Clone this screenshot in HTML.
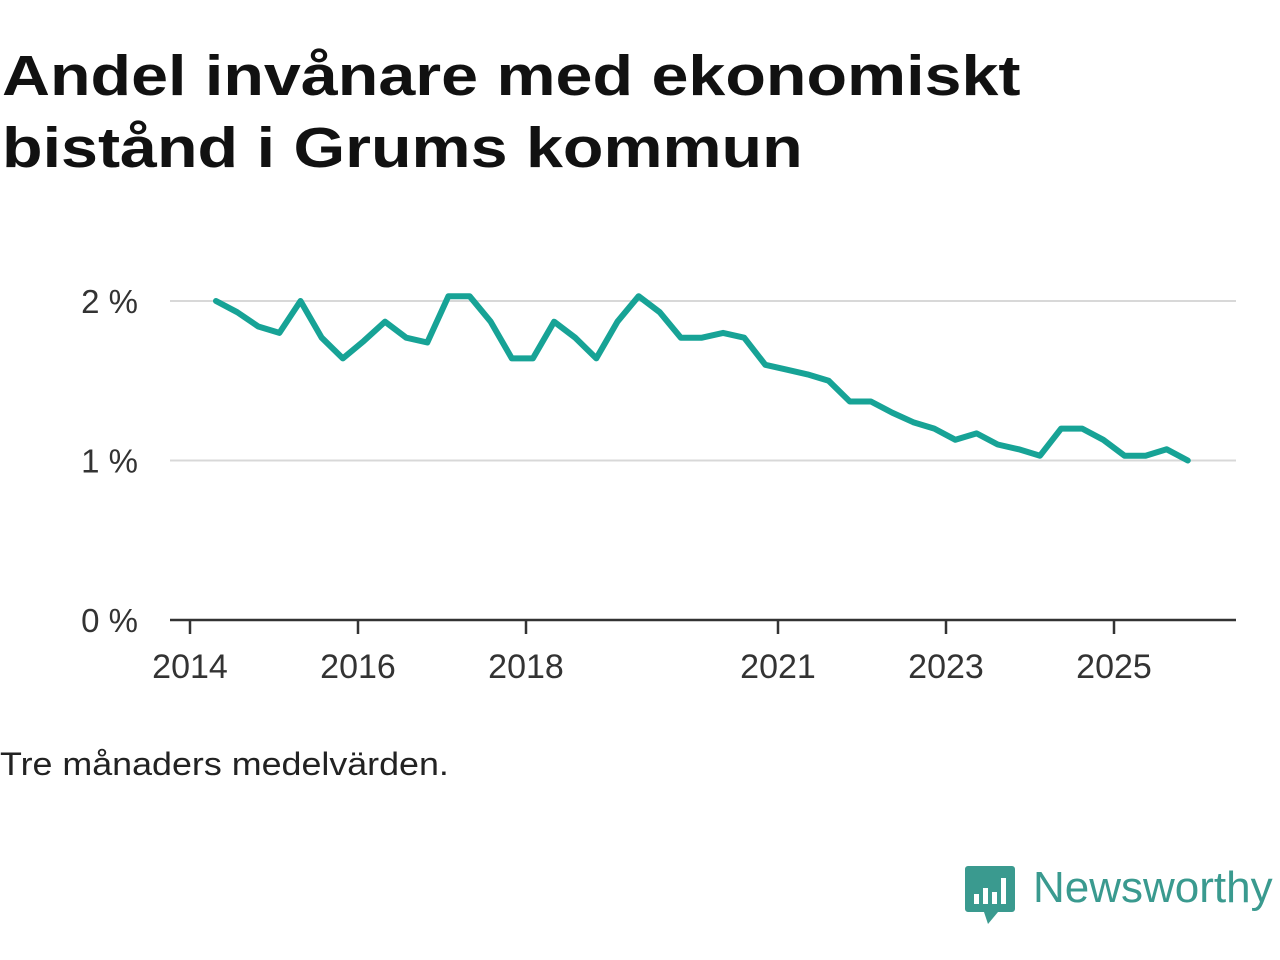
<!DOCTYPE html>
<html><head><meta charset="utf-8">
<style>
body{margin:0;width:1280px;height:960px;background:#fff;font-family:"Liberation Sans",sans-serif;overflow:hidden;position:relative}
h1{position:absolute;left:2px;top:40px;margin:0;font-size:57px;line-height:72px;font-weight:bold;color:#111;transform:scaleX(1.165);transform-origin:0 0;white-space:nowrap}
.note{position:absolute;left:0;top:746px;font-size:32px;color:#222;transform:scaleX(1.12);transform-origin:0 0;white-space:nowrap}
.logo{position:absolute;left:964px;top:864px}
.logotext{position:absolute;left:1033px;top:863px;font-size:44px;color:#3a9a8f;white-space:nowrap}
</style></head><body>
<h1>Andel invånare med ekonomiskt<br>bistånd i Grums kommun</h1>
<svg id="chart" width="1280" height="960" style="position:absolute;left:0;top:0"></svg>
<div class="note">Tre månaders medelvärden.</div>
<svg class="logo" width="52" height="62" viewBox="0 0 52 62">
<path d="M4 2h44a3 3 0 0 1 3 3v40a3 3 0 0 1-3 3H34l-10 12-4-12H4a3 3 0 0 1-3-3V5a3 3 0 0 1 3-3z" fill="#3a9a8f"/>
<rect x="10" y="30" width="5" height="10" fill="#fff"/><rect x="19" y="24" width="5" height="16" fill="#fff"/><rect x="28" y="28" width="5" height="12" fill="#fff"/><rect x="37" y="14" width="5" height="26" fill="#fff"/>
</svg>
<div class="logotext">Newsworthy</div>
<script>
const startYear = 2014.31;
const stepYears = 0.2515;
const values = [2.0,1.93,1.84,1.80,2.0,1.77,1.64,1.75,1.87,1.77,1.74,2.03,2.03,1.87,1.64,1.64,1.87,1.77,1.64,1.87,2.03,1.93,1.77,1.77,1.80,1.77,1.60,1.57,1.54,1.50,1.37,1.37,1.30,1.24,1.20,1.13,1.17,1.10,1.07,1.03,1.20,1.20,1.13,1.03,1.03,1.07,1.0];
const yTicks = [0,1,2];
const yTickLabels = ["0 %","1 %","2 %"];
const xTicks = [2014,2016,2018,2021,2023,2025];
const xTickLabels = ["2014","2016","2018","2021","2023","2025"];

const svg = document.getElementById('chart');
const NS = 'http://www.w3.org/2000/svg';
const x = yr => 190 + (yr - 2014) * 84;
const y = v => 620 - v * 159.5;
function mk(tag, attrs){const e=document.createElementNS(NS,tag);for(const k in attrs)e.setAttribute(k,attrs[k]);svg.appendChild(e);return e;}

yTicks.forEach((t,i)=>{
  if(t>0){const g=mk('line',{x1:170,x2:1236,y1:y(t),y2:y(t),stroke:'#d8d8d8','stroke-width':2});
  
  }
  const l=mk('text',{x:138,y:y(t)+12,'text-anchor':'end','font-size':33,fill:'#333','font-family':'Liberation Sans, sans-serif'});
  l.textContent=yTickLabels[i];
  
  
});
const ax=mk('line',{x1:170,x2:1236,y1:620,y2:620,stroke:'#333','stroke-width':2.5});


xTicks.forEach((t,i)=>{
  const tk=mk('line',{x1:x(t),x2:x(t),y1:620,y2:634,stroke:'#333','stroke-width':2.5});
  
  
  const l=mk('text',{x:x(t),y:678,'text-anchor':'middle','font-size':34,fill:'#333','font-family':'Liberation Sans, sans-serif'});
  l.textContent=xTickLabels[i];
  
  
});
const pts=values.map((v,i)=>x(startYear+i*stepYears).toFixed(1)+','+y(v).toFixed(1)).join(' ');
const line=mk('polyline',{points:pts,fill:'none',stroke:'#17a396','stroke-width':6,'stroke-linejoin':'round','stroke-linecap':'round'});


</script>
</body></html>
